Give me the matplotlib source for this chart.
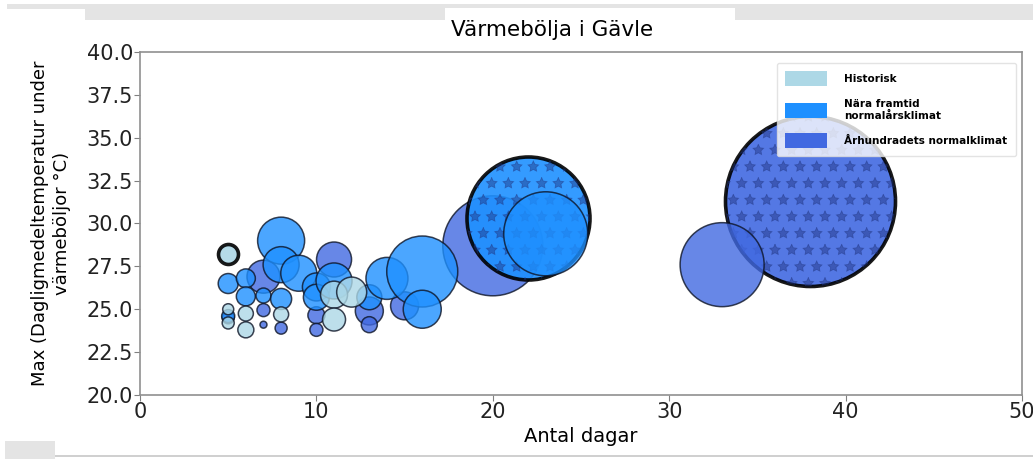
import matplotlib
matplotlib.use("Agg")
import matplotlib.pyplot as plt
from matplotlib.patches import Patch, Rectangle
import numpy as np

# ---------------- data ----------------
# Historisk
hist_dagar = [5, 5, 5, 6, 6, 8, 11, 11, 12]
hist_temp = [28.2, 25.0, 24.2, 24.75, 23.8, 24.7, 25.85, 24.4, 26.0]
hist_storlek = [20.7, 6.3, 7.5, 11.7, 13.3, 11.7, 37.8, 27.4, 46.7]
hist_marker = [True, False, False, False, False, False, False, False, False]

# Nära framtid normalårsklimat
nara_dagar = [5, 5, 6, 6, 7, 8, 8, 8, 9, 10, 10, 11, 13, 14, 16, 16, 22, 23]
nara_temp = [26.5, 24.6, 26.8, 25.75, 25.8, 29.0, 27.6, 25.6, 27.1, 26.3, 25.7,
             26.65, 25.7, 26.8, 27.2, 25.0, 30.3, 29.4]
nara_storlek = [20.7, 8.8, 18.7, 18.7, 11.7, 114.5, 67.2, 22.9, 67.2, 40.6, 35.0,
                67.2, 32.4, 91.4, 261.3, 74.9, 784.3, 365.8]
nara_marker = [False] * 16 + [True, False]

# Århundradets normalklimat
arh_dagar = [5, 7, 7, 7, 8, 10, 10, 11, 13, 13, 15, 20, 33, 38]
arh_temp = [24.5, 26.9, 24.95, 24.1, 23.9, 24.65, 23.8, 27.9, 24.9, 24.1, 25.2,
            28.7, 27.6, 31.3]
arh_storlek = [7.5, 56.5, 8.8, 2.5, 7.5, 15.0, 8.8, 63.5, 40.6, 13.3, 40.6,
               518.4, 365.8, 1498.2]
arh_marker = [False] * 13 + [True]

serier = ["Historisk", "Nära framtid\nnormalårsklimat", "Århundradets normalklimat"]
farger = ["#ADD8E6", "#1E90FF", "#4169E1"]

x_ticks = [0, 10, 20, 30, 40, 50]
y_ticks = [20.0, 22.5, 25.0, 27.5, 30.0, 32.5, 35.0, 37.5, 40.0]

# ---------------- figure ----------------
plt.rcParams['font.family'] = ['DejaVu Sans']
plt.rcParams['hatch.linewidth'] = 0.6

W, H = 1033, 459
fig = plt.figure(figsize=(W / 100, H / 100), dpi=100)

# screenshot chrome (grey strips)
grey = "#e4e4e4"
def frect(x0, y0, x1, y1, c):
    fig.patches.append(Rectangle((x0 / W, 1 - y1 / H), (x1 - x0) / W, (y1 - y0) / H,
                                 transform=fig.transFigure, facecolor=c,
                                 edgecolor='none', zorder=0))
frect(85, 4, 1033, 20, grey)
frect(7, 4, 85, 9, grey)
frect(445, 8, 735, 20, "white")
frect(5, 441, 55, 459, grey)
frect(55, 455, 1033, 457, "#d0d0d0")

ax = fig.add_axes([140 / W, 1 - 395 / H, (1022 - 140) / W, (395 - 52) / H])

SK = 10.0  # scale from size value to marker area
kant = (0.05, 0.08, 0.15, 0.85)

def rita(dagar, temp, storlek, marker, farg, z, stjarnor):
    d = np.array(dagar); t = np.array(temp); s = np.array(storlek) * SK
    m = np.array(marker)
    if m.any():
        ax.scatter(d[m], t[m], s=s[m], c=farg, alpha=0.9, edgecolors='black',
                   linewidths=2.6, zorder=z)
        if stjarnor:
            ax.scatter(d[m], t[m], s=s[m], facecolors='none',
                       edgecolors=[(0.12, 0.2, 0.5, 0.45)], linewidths=0,
                       hatch='*', zorder=z + 0.05)
    ax.scatter(d[~m], t[~m], s=s[~m], c=farg, alpha=0.8, edgecolors=[kant],
               linewidths=1.1, zorder=z + 0.1)

rita(arh_dagar, arh_temp, arh_storlek, arh_marker, farger[2], 2, True)
rita(nara_dagar, nara_temp, nara_storlek, nara_marker, farger[1], 3, True)
rita(hist_dagar, hist_temp, hist_storlek, hist_marker, farger[0], 4, False)

ax.set_xlim(0, 50)
ax.set_ylim(20, 40)
ax.set_xticks(x_ticks)
ax.set_xticklabels([str(v) for v in x_ticks])
ax.set_yticks(y_ticks)
ax.set_yticklabels([f"{v:.1f}" for v in y_ticks])
ax.tick_params(labelsize=15, color="#808080", length=4, pad=1, labelcolor="#222222")
for sp in ax.spines.values():
    sp.set_color("#909090")
    sp.set_linewidth(1.2)

fig.text(552 / W, 1 - 30 / H, "Värmebölja i Gävle", fontsize=15.5,
         ha='center', va='center')
ax.set_xlabel("Antal dagar", fontsize=14)
ax.xaxis.set_label_coords(0.5, (395 - 427) / 343)
ax.set_ylabel("Max (Dagligmedeltemperatur under\nvärmeböljor °C)", fontsize=13,
              linespacing=1.3)
ax.yaxis.set_label_coords(-0.078, 0.5)

handles = [Patch(facecolor=c, edgecolor='none') for c in farger]
leg = ax.legend(handles, serier, loc='upper right', bbox_to_anchor=(0.993, 0.968),
                borderaxespad=0, prop={'size': 7.5, 'weight': 'bold'},
                handlelength=4.0, handleheight=1.85, labelspacing=1.2,
                framealpha=0.8, borderpad=0.8, handletextpad=1.7)
leg.get_frame().set_edgecolor("#dddddd")
leg.set_zorder(10)

fig.savefig("out.png", dpi=100)
